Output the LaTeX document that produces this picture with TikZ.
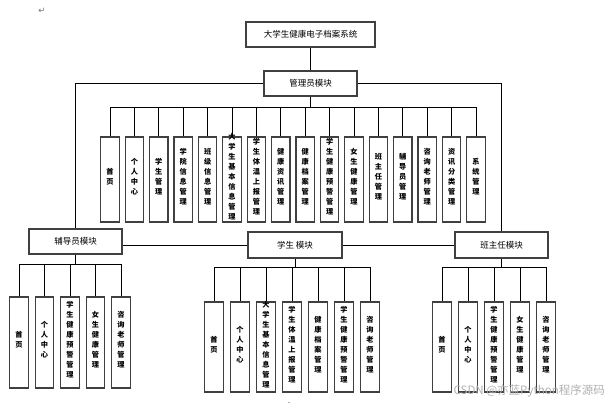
\documentclass[tikz,border=0pt]{standalone}
\usepackage{fontspec}
\newfontfamily\cjk{Noto Sans CJK SC}
\newfontfamily\dejavu{DejaVu Sans}
\newcommand\vtext[1]{\smash{\begin{tabular}{@{}c@{}}#1\end{tabular}}}
\begin{document}
\begin{tikzpicture}[x=1pt,y=-1pt,
  box/.style={draw=black!75, line width=1.2pt, fill=white, inner sep=0pt},
  modbox/.style={box, minimum width=93pt, minimum height=25pt, font=\cjk\fontsize{8.5}{10}\selectfont},
  leaf/.style={box, minimum width=18.5pt, align=center, font=\cjk\bfseries\fontsize{7.2}{10}\selectfont},
  conn/.style={draw=black, line width=0.8pt}]
\fill[white] (0,0) rectangle (609,404);
\useasboundingbox (0,0) rectangle (609,404);
\node[text=black!55] (ret) at (42,11) {\dejavu\fontsize{8.5}{8.5}\selectfont ↵};
% top levels
\node[modbox, minimum width=129pt] (top) at (310.5,34.5) {大学生健康电子档案系统};
\node[modbox] (admin) at (310.5,83.5) {管理员模块};
\node[modbox] (fdy) at (75.5,241.5) {辅导员模块};
\node[modbox, minimum width=94pt, minimum height=26pt] (xs) at (295,245) {学生 模块};
\node[modbox, minimum height=26pt] (bzr) at (501.5,245) {班主任模块};
\draw[conn] (top.south) -- (admin.north);
\draw[conn] (admin.west) -| (fdy.north);
\draw[conn] (admin.east) -| (bzr.north);
\draw[conn] (fdy.east |- xs.west) -- (xs.west);
\draw[conn] (xs.east) -- (bzr.west);
% admin children
\coordinate (abus) at (310.5,107);
\draw[conn] (admin.south) -- (abus);
\foreach \txt [count=\i from 0] in {{首\\页},{个\\人\\中\\心},{学\\生\\管\\理},{学\\院\\信\\息\\管\\理},{班\\级\\信\\息\\管\\理},{大\\学\\生\\基\\本\\信\\息\\管\\理},{学\\生\\体\\温\\上\\报\\管\\理},{健\\康\\资\\讯\\管\\理},{健\\康\\档\\案\\管\\理},{学\\生\\健\\康\\预\\警\\管\\理},{女\\生\\健\\康\\管\\理},{班\\主\\任\\管\\理},{辅\\导\\员\\管\\理},{咨\\询\\老\\师\\管\\理},{资\\讯\\分\\类\\管\\理},{系\\统\\管\\理}}{
  \node[leaf, minimum height=85pt] (a\i) at (110+24.4*\i,179.5) {\vtext{\txt}};
  \draw[conn] (abus) -| (a\i.north);
}
% fdy children
\coordinate (fbus) at (75.5,264);
\draw[conn] (fdy.south) -- (fbus);
\foreach \txt [count=\i from 0] in {{首\\页},{个\\人\\中\\心},{学\\生\\健\\康\\预\\警\\管\\理},{女\\生\\健\\康\\管\\理},{咨\\询\\老\\师\\管\\理}}{
  \node[leaf, minimum height=91pt] (f\i) at (19+25.5*\i,342.5) {\vtext{\txt}};
  \draw[conn] (fbus) -| (f\i.north);
}
% student children
\coordinate (sbus) at (295,267);
\draw[conn] (xs.south) -- (sbus);
\foreach \txt [count=\i from 0] in {{首\\页},{个\\人\\中\\心},{大\\学\\生\\基\\本\\信\\息\\管\\理},{学\\生\\体\\温\\上\\报\\管\\理},{健\\康\\档\\案\\管\\理},{学\\生\\健\\康\\预\\警\\管\\理},{咨\\询\\老\\师\\管\\理}}{
  \node[leaf, minimum height=90pt] (s\i) at (214+26*\i,347) {\vtext{\txt}};
  \draw[conn] (sbus) -| (s\i.north);
}
% bzr children
\coordinate (bbus) at (501.5,267);
\draw[conn] (bzr.south) -- (bbus);
\foreach \txt [count=\i from 0] in {{首\\页},{个\\人\\中\\心},{学\\生\\健\\康\\预\\警\\管\\理},{女\\生\\健\\康\\管\\理},{咨\\询\\老\\师\\管\\理}}{
  \node[leaf, minimum height=90pt] (b\i) at (442+26*\i,347) {\vtext{\txt}};
  \draw[conn] (bbus) -| (b\i.north);
}
\node[anchor=east, text=black!30, inner sep=0pt] (wm) at (605,391) {\cjk\fontsize{11.5}{12}\selectfont CSDN @亦蓝Python程序源码};
\fill[black!60] (289,402.5) circle (0.6);
\end{tikzpicture}
\end{document}
